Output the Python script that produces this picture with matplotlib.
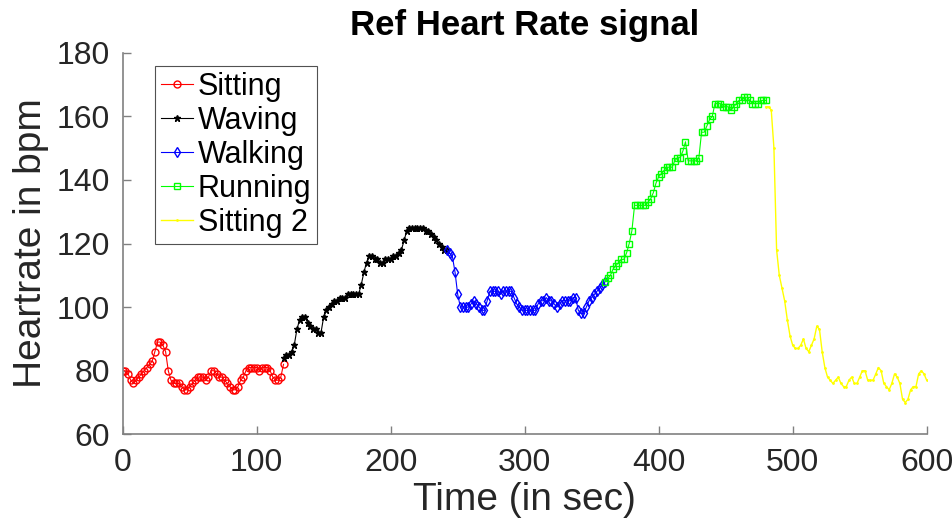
import numpy as np
import matplotlib.pyplot as plt

plt.rcParams['font.family'] = ['Liberation Sans', 'DejaVu Sans']

# heart rate (bpm) sampled every 2 s for each activity
t_sit = np.arange(0, 121, 2)
hr_sit = [80, 80, 79, 77, 76, 77, 78, 79, 80, 81, 82, 83, 86, 89, 89, 88,
          86, 80, 77, 76, 76, 76, 75, 74, 74, 75, 76, 77, 78, 78, 78, 77,
          78, 80, 80, 79, 78, 78, 77, 76, 75, 74, 74, 75, 77, 78, 80, 81,
          81, 81, 81, 80, 81, 81, 81, 80, 78, 77, 77, 78, 82]

t_wave = np.arange(120, 243, 2)
hr_wave = [84, 85, 85, 86, 88, 93, 96, 97, 97, 95, 94, 93, 93, 92, 92, 97,
           99, 100, 101, 102, 102, 103, 103, 103, 104, 104, 104, 104, 104,
           107, 111, 114, 116, 116, 115, 115, 114, 114, 115, 115, 115, 116,
           116, 117, 118, 121, 124, 125, 125, 125, 125, 125, 125, 124, 124,
           123, 122, 121, 120, 119, 118, 118]

t_walk = np.arange(242, 361, 2)
hr_walk = [118, 117, 116, 111, 104, 100, 100, 100, 100, 101, 102, 101, 100,
           99, 99, 102, 105, 105, 105, 105, 104, 105, 105, 105, 105, 103,
           101, 100, 99, 99, 99, 99, 99, 99, 101, 102, 102, 103, 102, 102,
           101, 100, 101, 102, 102, 102, 102, 103, 103, 99, 98, 98, 100,
           102, 103, 104, 105, 106, 107, 108]

t_run = np.arange(360, 481, 2)
hr_run = [108, 109, 110, 112, 113, 114, 115, 115, 117, 120, 124, 132, 132,
          132, 132, 132, 133, 134, 136, 139, 141, 142, 143, 144, 144, 144,
          146, 147, 147, 149, 152, 146, 146, 146, 146, 147, 155, 155, 157,
          159, 160, 164, 164, 164, 163, 163, 163, 162, 163, 164, 165, 165,
          166, 166, 165, 164, 164, 164, 165, 165, 165]

t_sit2 = np.arange(480, 601, 2)
hr_sit2 = [163, 163, 162, 150, 118, 110, 106, 102, 96, 91, 88, 87, 87, 88,
           90, 87, 86, 88, 90, 94, 93, 86, 81, 78, 77, 76, 77, 78, 76, 75,
           75, 77, 78, 76, 76, 78, 80, 80, 77, 77, 77, 79, 81, 80, 76, 75,
           74, 76, 79, 78, 76, 71, 70, 71, 74, 75, 75, 79, 80, 79, 77]

fig = plt.figure(figsize=(9.52, 5.23), dpi=100)
ax = fig.add_axes([0.1289, 0.1696, 0.8445, 0.7296])

ms = 5
lw = 0.8
ax.plot(t_sit, hr_sit, '-o', color='#ff0000', mfc='none', ms=ms, lw=lw, label='Sitting')
ax.plot(t_wave, hr_wave, '-*', color='#000000', ms=ms, lw=lw, label='Waving')
ax.plot(t_walk, hr_walk, '-d', color='#0000ff', mfc='none', ms=ms, lw=lw, label='Walking')
ax.plot(t_run, hr_run, '-s', color='#00ff00', mfc='none', ms=ms, lw=lw, label='Running')
ax.plot(t_sit2, hr_sit2, marker='.', color='#ffff00', ms=2, lw=1.0, linestyle='-', label='Sitting 2')

ax.set_xlim(0, 600)
ax.set_ylim(60, 180)
ax.set_xticks([0, 100, 200, 300, 400, 500, 600])
ax.set_yticks([60, 80, 100, 120, 140, 160, 180])

for s in ['top', 'right']:
    ax.spines[s].set_visible(False)
for s in ['left', 'bottom']:
    ax.spines[s].set_color('#808080')
    ax.spines[s].set_linewidth(1.2)
ax.tick_params(direction='in', length=6, width=1, color='#808080',
               labelsize=23, labelcolor='#262626')
ax.tick_params(axis='x', pad=10)
ax.tick_params(axis='y', pad=9)

ax.set_xlabel('Time (in sec)', fontsize=28, color='#262626', labelpad=3)
ax.set_ylabel('Heartrate in bpm', fontsize=28, color='#262626', labelpad=6)
ax.set_title('Ref Heart Rate signal', fontsize=25, fontweight='bold', pad=13)

leg = ax.legend(loc='upper left', bbox_to_anchor=(0.04, 0.965), fontsize=22,
                frameon=True, fancybox=False, edgecolor='#262626',
                handlelength=1.05, handletextpad=0.15, labelspacing=0.13,
                borderpad=0.2, borderaxespad=0)
leg.get_frame().set_linewidth(0.8)

fig.savefig('out.png', dpi=100)
